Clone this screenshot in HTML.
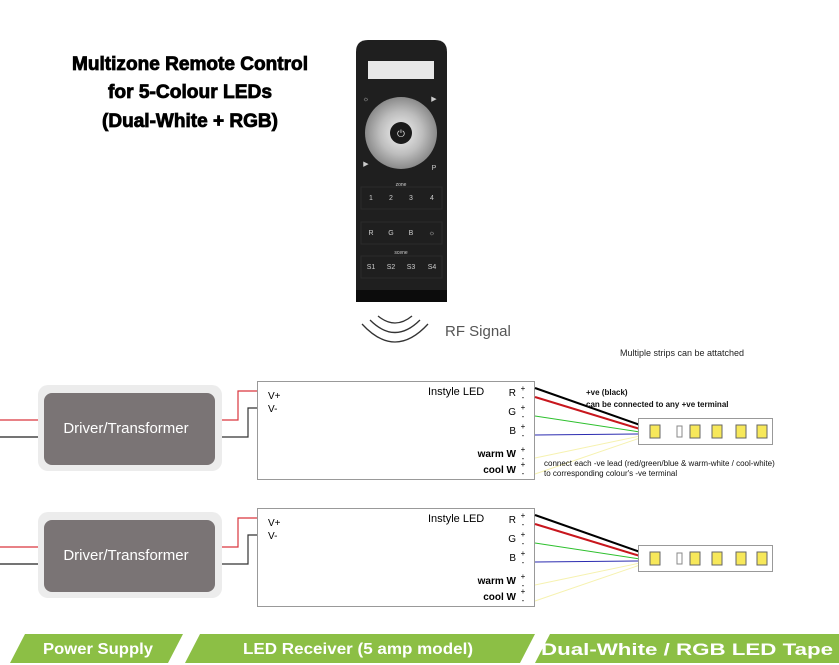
<!DOCTYPE html>
<html><head><meta charset="utf-8"><style>
html,body{margin:0;padding:0;background:#fff;}
svg{display:block;font-family:"Liberation Sans",sans-serif;}
</style></head><body>
<svg width="839" height="665" viewBox="0 0 839 665" xmlns="http://www.w3.org/2000/svg">
<defs>
<radialGradient id="dial" cx="50%" cy="50%" r="50%">
<stop offset="0" stop-color="#f2f2f2"/><stop offset="0.6" stop-color="#bdbdbd"/><stop offset="1" stop-color="#8a8a8a"/>
</radialGradient>
<g id="row">
  <line x1="0" y1="420" x2="40" y2="420" stroke="#d9363e" stroke-width="1.2"/>
  <line x1="0" y1="437" x2="40" y2="437" stroke="#222" stroke-width="1.2"/>
  <rect x="38" y="385" width="184" height="86" rx="10" fill="#ececec"/>
  <rect x="44" y="393" width="171" height="72" rx="8" fill="#7a7475"/>
  <text x="126" y="433" font-size="15" fill="#fff" text-anchor="middle">Driver/Transformer</text>
  <polyline points="222,420 238,420 238,391 258,391" fill="none" stroke="#d9363e" stroke-width="1.2"/>
  <polyline points="222,437 248,437 248,408 258,408" fill="none" stroke="#333" stroke-width="1.2"/>
  <rect x="257.5" y="381.5" width="277" height="98" fill="#fff" stroke="#999" stroke-width="1"/>
  <text x="268" y="399" font-size="10">V+</text>
  <text x="268" y="412" font-size="10">V-</text>
  <text x="428" y="395" font-size="11">Instyle LED</text>
  <g font-size="10" text-anchor="end">
    <text x="516" y="396">R</text><text x="516" y="415">G</text><text x="516" y="434">B</text>
    <text x="516" y="457" font-weight="bold">warm W</text><text x="516" y="473" font-weight="bold">cool W</text>
  </g>
  <g font-size="8" text-anchor="middle">
    <text x="523" y="391">+</text><text x="523" y="400">-</text>
    <text x="523" y="410">+</text><text x="523" y="419">-</text>
    <text x="523" y="429">+</text><text x="523" y="438">-</text>
    <text x="523" y="452">+</text><text x="523" y="461">-</text>
    <text x="523" y="467">+</text><text x="523" y="476">-</text>
  </g>
  <line x1="535" y1="388" x2="640" y2="425" stroke="#000" stroke-width="2"/>
  <line x1="535" y1="397" x2="640" y2="429" stroke="#c8161d" stroke-width="2"/>
  <line x1="535" y1="416" x2="640" y2="432" stroke="#2ec02e" stroke-width="1"/>
  <line x1="535" y1="435" x2="640" y2="434" stroke="#2b2bb0" stroke-width="1"/>
  <line x1="535" y1="458" x2="640" y2="436" stroke="#f6f2b0" stroke-width="1"/>
  <line x1="535" y1="474" x2="640" y2="438" stroke="#f6f2b0" stroke-width="1"/>
  <rect x="638.5" y="418.5" width="134" height="26" fill="#fff" stroke="#999"/>
  <g fill="#f7e85a" stroke="#666" stroke-width="1">
    <rect x="650" y="425" width="10" height="13"/><rect x="690" y="425" width="10" height="13"/>
    <rect x="712" y="425" width="10" height="13"/><rect x="736" y="425" width="10" height="13"/>
    <rect x="757" y="425" width="10" height="13"/>
  </g>
  <rect x="677" y="426" width="5" height="11" fill="none" stroke="#888"/>
</g>
</defs>

<g font-family="Liberation Sans Narrow, Liberation Sans, sans-serif" font-weight="bold" font-size="19" text-anchor="middle" fill="#000" stroke="#000" stroke-width="0.8">
<text x="190" y="70" textLength="236" lengthAdjust="spacingAndGlyphs">Multizone Remote Control</text>
<text x="190" y="98" textLength="164" lengthAdjust="spacingAndGlyphs">for 5-Colour LEDs</text>
<text x="190" y="127" textLength="176" lengthAdjust="spacingAndGlyphs">(Dual-White + RGB)</text>
</g>

<!-- remote -->
<path d="M356,52 Q356,40 368,40 L435,40 Q447,40 447,52 L447,302 L356,302 Z" fill="#1f1f1f"/>
<rect x="356" y="290" width="91" height="12" fill="#0c0c0c"/>
<rect x="368" y="61" width="66" height="18" fill="#e8e8e8"/>
<circle cx="401" cy="133" r="36" fill="url(#dial)"/>
<circle cx="401" cy="133" r="11" fill="#1a1a1a"/>
<text x="401" y="137" font-size="10" fill="#ddd" text-anchor="middle">⏻</text>
<g font-size="7" fill="#ccc" text-anchor="middle">
<text x="366" y="101">☼</text><text x="434" y="101">▶</text><text x="366" y="166">▶</text><text x="434" y="170">P</text>
<text x="401" y="186" font-size="5">zone</text>
<text x="371" y="200">1</text><text x="391" y="200">2</text><text x="411" y="200">3</text><text x="432" y="200">4</text>
<text x="371" y="235">R</text><text x="391" y="235">G</text><text x="411" y="235">B</text><text x="432" y="235">☼</text>
<text x="401" y="254" font-size="5">scene</text>
<text x="371" y="269">S1</text><text x="391" y="269">S2</text><text x="411" y="269">S3</text><text x="432" y="269">S4</text>
</g>
<g stroke="#2b2b2b" fill="none"><rect x="361" y="187" width="81" height="22"/><rect x="361" y="222" width="81" height="22"/><rect x="361" y="256" width="81" height="22"/></g>

<!-- RF -->
<g fill="none" stroke="#333" stroke-width="1.3">
<path d="M378,316 Q395,330 412,316"/>
<path d="M370,320 Q395,345 420,320"/>
<path d="M362,324 Q395,360 428,324"/>
</g>
<text x="445" y="336" font-size="15" fill="#555">RF Signal</text>
<text x="620" y="356" font-size="9" fill="#222">Multiple strips can be attatched</text>

<use href="#row"/>
<use href="#row" transform="translate(0,127)"/>

<g font-size="8" font-weight="bold" fill="#111">
<text x="586" y="395">+ve (black)</text>
<text x="586" y="407">can be connected to any +ve terminal</text>
</g>
<g font-size="8" fill="#111">
<text x="544" y="466">connect each -ve lead (red/green/blue &amp; warm-white / cool-white)</text>
<text x="544" y="476">to corresponding colour's -ve terminal</text>
</g>

<!-- banners -->
<g fill="#8cbf45">
<polygon points="25,634 183,634 168,663 10,663"/>
<polygon points="200,634 535,634 520,663 185,663"/>
<polygon points="550,634 839,634 839,663 535,663"/>
</g>
<g font-weight="bold" fill="#fff" font-size="16" text-anchor="middle">
<text x="98" y="654" textLength="110" lengthAdjust="spacingAndGlyphs">Power Supply</text>
<text x="358" y="654" textLength="230" lengthAdjust="spacingAndGlyphs">LED Receiver (5 amp model)</text>
<text x="687" y="655" textLength="292" lengthAdjust="spacingAndGlyphs" font-size="17">Dual-White / RGB LED Tape</text>
</g>
</svg>
</body></html>
